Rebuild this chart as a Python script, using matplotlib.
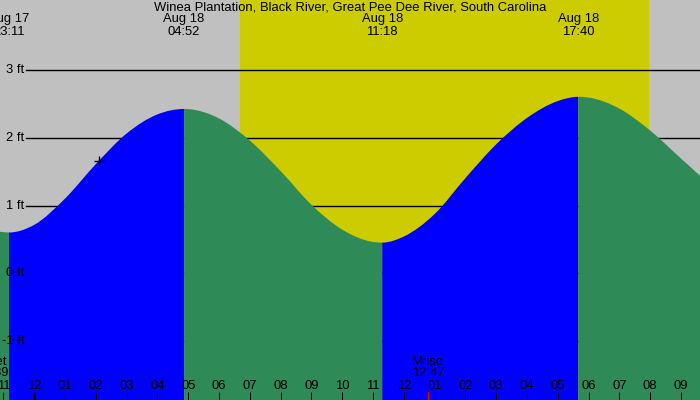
import numpy as np
import matplotlib
matplotlib.use("Agg")
import matplotlib.pyplot as plt
from matplotlib.path import Path
from matplotlib.patches import PathPatch

plt.rcParams['font.family'] = ['Liberation Sans', 'DejaVu Sans']

# ---------------- data ----------------
title = "Winea Plantation, Black River, Great Pee Dee River, South Carolina"

# tide extremes: hours from midnight Aug 18, labels
extreme_dates = ["Aug 17", "Aug 18", "Aug 18", "Aug 18"]
extreme_times = ["23:11", "04:52", "11:18", "17:40"]
extreme_hours = [-0.817, 4.867, 11.30, 17.667]

# tide curve readings (hours, ft), one list per rising/falling stretch
seg0_hours = [-1.20, -0.817]
seg0_heights = [0.617, 0.60]
seg1_hours = [-0.817, 0.0, 1.0, 2.0, 3.0, 4.0, 4.867]
seg1_heights = [0.60, 0.713, 1.102, 1.612, 2.066, 2.349, 2.43]
seg2_hours = [4.867, 5.0, 6.0, 7.0, 8.0, 9.0, 10.0, 11.0, 11.30]
seg2_heights = [2.43, 2.428, 2.290, 1.962, 1.510, 1.011, 0.643, 0.460, 0.45]
seg3_hours = [11.30, 12.0, 13.0, 14.0, 15.0, 16.0, 17.0, 17.667]
seg3_heights = [0.45, 0.540, 0.873, 1.405, 1.906, 2.297, 2.547, 2.61]
seg4_hours = [17.667, 18.0, 19.0, 20.0, 21.0, 22.0]
seg4_heights = [2.61, 2.599, 2.435, 2.110, 1.696, 1.285]

segments_hours = [seg0_hours, seg1_hours, seg2_hours, seg3_hours, seg4_hours]
segments_heights = [seg0_heights, seg1_heights, seg2_heights, seg3_heights, seg4_heights]
segments_rising = [False, True, False, True, False]
start_is_extreme = [False, True, True, True, True]
end_is_extreme = [True, True, True, True, False]

# sun and moon
sunrise_hour = 6.68
sunset_hour = 19.96
moonrise_hour = 12.783
moonrise_label = "12:47"
moonset_hour = -1.35
moonset_label = "22:39"

# current-time marker
now_hour = 2.10
now_height = 1.66

# hour ticks
tick_hours = list(range(-1, 22))
tick_labels = ["11", "12", "01", "02", "03", "04", "05", "06", "07", "08", "09", "10",
               "11", "12", "01", "02", "03", "04", "05", "06", "07", "08", "09"]

level_values = [-1, 0, 1, 2, 3]
level_labels = ["-1 ft", "0 ft", "1 ft", "2 ft", "3 ft"]

# ---------------- style ----------------
GRAY = "#c0c0c0"
YELLOW = "#cccc00"
BLUE = "#0000ff"
GREEN = "#2e8b57"
W, H = 700, 400
FS = 9.4

fig = plt.figure(figsize=(7, 4), dpi=100)
fig.patch.set_facecolor(GRAY)
ax = fig.add_axes([0, 0, 1, 1])
ax.set_facecolor(GRAY)
ax.set_xlim(-1.110, 21.617)
ax.set_ylim(-1.881, 4.044)
ax.axis("off")
base = -1.881

ax.axvspan(sunrise_hour, sunset_hour, color=YELLOW, zorder=0, lw=0)

for lv in level_values:
    ax.axhline(lv, xmin=26 / W, xmax=1, color="black", lw=1.0, zorder=1)


def tide_patch(t, h, s_ext, e_ext, color):
    t = np.asarray(t, float)
    h = np.asarray(h, float)
    n = len(t)
    m = np.zeros(n)
    for i in range(1, n - 1):
        d0 = (h[i] - h[i - 1]) / (t[i] - t[i - 1])
        d1 = (h[i + 1] - h[i]) / (t[i + 1] - t[i])
        m[i] = (d0 * (t[i + 1] - t[i]) + d1 * (t[i] - t[i - 1])) / (t[i + 1] - t[i - 1])
    m[0] = 0.0 if s_ext else (h[1] - h[0]) / (t[1] - t[0])
    m[-1] = 0.0 if e_ext else (h[-1] - h[-2]) / (t[-1] - t[-2])
    verts = [(t[0], base), (t[0], h[0])]
    codes = [Path.MOVETO, Path.LINETO]
    for i in range(n - 1):
        dt = t[i + 1] - t[i]
        verts += [(t[i] + dt / 3, h[i] + m[i] * dt / 3),
                  (t[i + 1] - dt / 3, h[i + 1] - m[i + 1] * dt / 3),
                  (t[i + 1], h[i + 1])]
        codes += [Path.CURVE4] * 3
    verts += [(t[-1], base), (t[0], base)]
    codes += [Path.LINETO, Path.CLOSEPOLY]
    return PathPatch(Path(verts, codes), facecolor=color, edgecolor="none", zorder=2)


for th, hh, rising, se, ee in zip(segments_hours, segments_heights, segments_rising,
                                   start_is_extreme, end_is_extreme):
    ax.add_patch(tide_patch(th, hh, se, ee, BLUE if rising else GREEN))

# current time marker
ax.plot([now_hour], [now_height], marker="+", color="black", ms=7, mew=1.0, zorder=4)

# level labels
for lv, lab in zip(level_values, level_labels):
    ax.text(24 / W, lv, lab, transform=ax.get_yaxis_transform(), ha="right", va="center",
            fontsize=FS, zorder=5)

xt = ax.get_xaxis_transform()
# title and extreme labels
ax.text(0.5, 1 - 7 / H, title, transform=ax.transAxes, ha="center", va="center", fontsize=FS, zorder=5)
for d, tl, hr in zip(extreme_dates, extreme_times, extreme_hours):
    ax.text(hr, 1 - 19.3 / H, d, transform=xt, ha="center", va="center", fontsize=FS, zorder=5)
    ax.text(hr, 1 - 31.7 / H, tl, transform=xt, ha="center", va="center", fontsize=FS, zorder=5)

# hour ticks
for hr, lab in zip(tick_hours, tick_labels):
    ax.text(hr, (H - 385.7) / H, lab, transform=xt, ha="center", va="center", fontsize=FS, zorder=5)
    lw = 3.0 if hr == 0 else 1.0
    ax.plot([hr, hr], [0, 8 / H], transform=xt, color="black", lw=lw * 0.72, zorder=5,
            solid_capstyle="butt")
ax.plot([moonrise_hour, moonrise_hour], [0, 8 / H], transform=xt, color="red", lw=0.72, zorder=6)

# moon labels
for hr, nm, tl in [(moonrise_hour, "Mrise", moonrise_label), (moonset_hour, "Mset", moonset_label)]:
    ax.text(hr, (H - 361.7) / H, nm, transform=xt, ha="center", va="center", fontsize=FS, zorder=5, clip_on=False)
    ax.text(hr, (H - 373.3) / H, tl, transform=xt, ha="center", va="center", fontsize=FS, zorder=5, clip_on=False)

fig.savefig("out.png", dpi=100, facecolor=GRAY)
